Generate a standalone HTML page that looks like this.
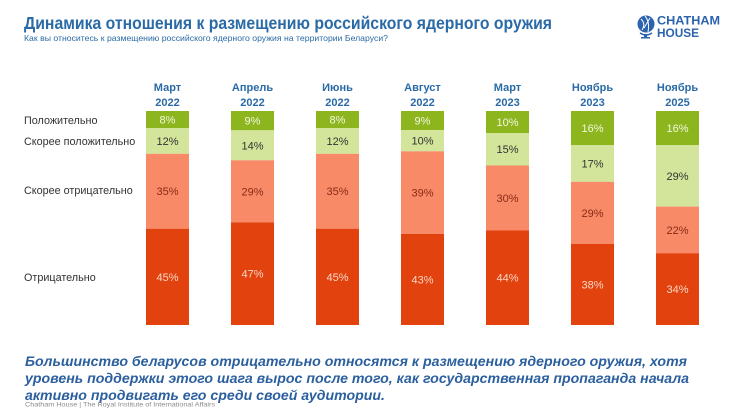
<!DOCTYPE html>
<html><head><meta charset="utf-8"><style>
html,body{margin:0;padding:0;background:#fff;}
svg{display:block;font-family:"Liberation Sans","Noto Sans CJK SC",sans-serif;}
</style></head><body>
<svg width="732" height="415" viewBox="0 0 732 415" xmlns="http://www.w3.org/2000/svg">
<rect width="732" height="415" fill="#fff"/>
<!-- Title -->
<text x="24" y="29" font-size="17.8" font-weight="bold" fill="#2A6AA6" textLength="528" lengthAdjust="spacingAndGlyphs">Динамика отношения к размещению российского ядерного оружия</text>
<text x="24" y="41" font-size="8.5" fill="#2A6AA6" textLength="364" lengthAdjust="spacingAndGlyphs">Как вы относитесь к размещению российского ядерного оружия на территории Беларуси?</text>
<!-- Logo -->
<g>
<circle cx="646" cy="24" r="8.5" fill="#2B63AE"/>
<path d="M641 19 Q646 24 642 30 M645 16 Q650 22 648 32 M650 18 L644 28" stroke="#fff" stroke-width="1" fill="none"/>
<path d="M640 33 Q646 37 652 33" stroke="#2B63AE" stroke-width="1.5" fill="none"/>
<rect x="644" y="34" width="3" height="3" fill="#2B63AE"/>
<rect x="641" y="37" width="9" height="1.5" fill="#2B63AE"/>
<text x="657" y="24.5" font-size="12" font-weight="bold" fill="#2B63AE" textLength="63" lengthAdjust="spacingAndGlyphs">CHATHAM</text>
<text x="657" y="37" font-size="12" font-weight="bold" fill="#2B63AE" textLength="42" lengthAdjust="spacingAndGlyphs">HOUSE</text>
</g>
<!-- Left labels -->
<g font-size="10.8" fill="#333">
<text x="24" y="124">Положительно</text>
<text x="24" y="145">Скорее положительно</text>
<text x="24" y="194">Скорее отрицательно</text>
<text x="24" y="281">Отрицательно</text>
</g>
<!-- Headers -->
<g font-size="11" font-weight="bold" fill="#2A6AA6" text-anchor="middle">
<text x="167.5" y="91">Март</text><text x="167.5" y="106">2022</text>
<text x="252.5" y="91">Апрель</text><text x="252.5" y="106">2022</text>
<text x="337.5" y="91">Июнь</text><text x="337.5" y="106">2022</text>
<text x="422.5" y="91">Август</text><text x="422.5" y="106">2022</text>
<text x="507.5" y="91">Март</text><text x="507.5" y="106">2023</text>
<text x="592.5" y="91">Ноябрь</text><text x="592.5" y="106">2023</text>
<text x="677.5" y="91">Ноябрь</text><text x="677.5" y="106">2025</text>
</g>
<!-- Bars -->
<g>
<rect x="146" y="111" width="43" height="17.1" fill="#8DB51D"/>
<rect x="146" y="128.1" width="43" height="25.7" fill="#D2E59A"/>
<rect x="146" y="153.8" width="43" height="74.9" fill="#F88A68"/>
<rect x="146" y="228.7" width="43" height="96.3" fill="#E2420E"/>
<rect x="231" y="111" width="43" height="19.3" fill="#8DB51D"/>
<rect x="231" y="130.3" width="43" height="30" fill="#D2E59A"/>
<rect x="231" y="160.3" width="43" height="62" fill="#F88A68"/>
<rect x="231" y="222.3" width="43" height="102.7" fill="#E2420E"/>
<rect x="316" y="111" width="43" height="17.1" fill="#8DB51D"/>
<rect x="316" y="128.1" width="43" height="25.7" fill="#D2E59A"/>
<rect x="316" y="153.8" width="43" height="74.9" fill="#F88A68"/>
<rect x="316" y="228.7" width="43" height="96.3" fill="#E2420E"/>
<rect x="401" y="111" width="43" height="19.1" fill="#8DB51D"/>
<rect x="401" y="130.1" width="43" height="21.2" fill="#D2E59A"/>
<rect x="401" y="151.3" width="43" height="82.6" fill="#F88A68"/>
<rect x="401" y="233.9" width="43" height="91.1" fill="#E2420E"/>
<rect x="486" y="111" width="43" height="22" fill="#8DB51D"/>
<rect x="486" y="133" width="43" height="32.5" fill="#D2E59A"/>
<rect x="486" y="165.5" width="43" height="65" fill="#F88A68"/>
<rect x="486" y="230.5" width="43" height="94.5" fill="#E2420E"/>
<rect x="571" y="111" width="43" height="34.2" fill="#8DB51D"/>
<rect x="571" y="145.2" width="43" height="36.6" fill="#D2E59A"/>
<rect x="571" y="181.8" width="43" height="62" fill="#F88A68"/>
<rect x="571" y="243.8" width="43" height="81.2" fill="#E2420E"/>
<rect x="656" y="111" width="43" height="34" fill="#8DB51D"/>
<rect x="656" y="145" width="43" height="61.6" fill="#D2E59A"/>
<rect x="656" y="206.6" width="43" height="46.6" fill="#F88A68"/>
<rect x="656" y="253.2" width="43" height="71.8" fill="#E2420E"/>
</g>
<!-- Labels -->
<g font-size="11" text-anchor="middle">
<g fill="#F2F8E0">
<text x="167.5" y="123.5">8%</text>
<text x="252.5" y="124.7">9%</text>
<text x="337.5" y="123.5">8%</text>
<text x="422.5" y="124.5">9%</text>
<text x="507.5" y="126">10%</text>
<text x="592.5" y="132">16%</text>
<text x="677.5" y="132">16%</text>
</g>
<g fill="#333">
<text x="167.5" y="145">12%</text>
<text x="252.5" y="149.3">14%</text>
<text x="337.5" y="145">12%</text>
<text x="422.5" y="144.7">10%</text>
<text x="507.5" y="153.2">15%</text>
<text x="592.5" y="167.5">17%</text>
<text x="677.5" y="179.8">29%</text>
</g>
<g fill="#8A2A12">
<text x="167.5" y="195.2">35%</text>
<text x="252.5" y="195.3">29%</text>
<text x="337.5" y="195.2">35%</text>
<text x="422.5" y="196.6">39%</text>
<text x="507.5" y="202">30%</text>
<text x="592.5" y="216.8">29%</text>
<text x="677.5" y="233.9">22%</text>
</g>
<g fill="#FAD7C6">
<text x="167.5" y="280.8">45%</text>
<text x="252.5" y="277.6">47%</text>
<text x="337.5" y="280.8">45%</text>
<text x="422.5" y="283.4">43%</text>
<text x="507.5" y="281.7">44%</text>
<text x="592.5" y="288.4">38%</text>
<text x="677.5" y="293">34%</text>
</g>
</g>
<!-- Bottom text -->
<g font-size="14" font-weight="bold" font-style="italic" fill="#2B5F9E">
<text x="25" y="366" textLength="662" lengthAdjust="spacingAndGlyphs">Большинство беларусов отрицательно относятся к размещению ядерного оружия, хотя</text>
<text x="25" y="383" textLength="664" lengthAdjust="spacingAndGlyphs">уровень поддержки этого шага вырос после того, как государственная пропаганда начала</text>
<text x="25" y="400" textLength="360" lengthAdjust="spacingAndGlyphs">активно продвигать его среди своей аудитории.</text>
</g>
<text x="25" y="406.5" font-size="6.5" fill="#8a8a8a" textLength="190" lengthAdjust="spacingAndGlyphs">Chatham House  |  The Royal Institute of International Affairs</text>
</svg>
</body></html>
